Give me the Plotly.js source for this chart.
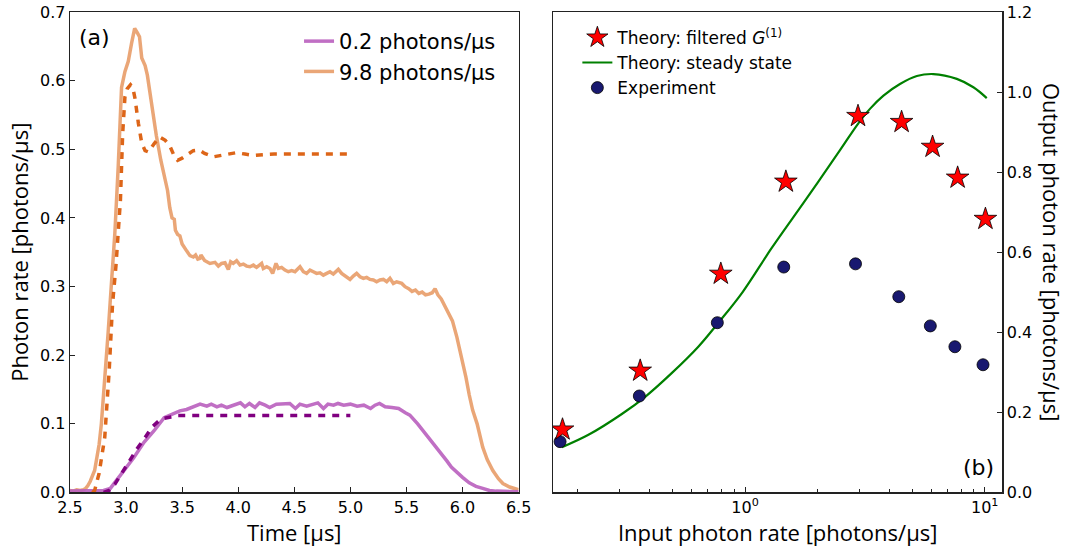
<!DOCTYPE html>
<html>
<head>
<meta charset="utf-8">
<script src="https://cdn.plot.ly/plotly-3.0.1.min.js"></script>
<style>
  html, body { margin: 0; padding: 0; background: #fff; }
  #chart { width: 1068px; height: 552px; }
</style>
</head>
<body>
<div id="chart"></div>
<script>
// ---- Panel (a): photon rate vs time ----
// Measured rate, 9.8 photons/us input
const tHigh = [2.50,2.53,2.56,2.59,2.62,2.64,2.66,2.68,2.72,2.74,2.76,2.78,2.81,2.84,2.87,2.90,2.93,2.96,2.99,3.02,3.05,3.077,3.10,3.12,3.14,3.17,3.19,3.23,3.27,3.31,3.34,3.37,3.39,3.41,3.43,3.44,3.46,3.48,3.50,3.52,3.54,3.57,3.60,3.62,3.64,3.659,3.668,3.70,3.719,3.748,3.793,3.823,3.852,3.882,3.912,3.933,3.956,3.986,4.016,4.046,4.075,4.105,4.135,4.164,4.209,4.224,4.254,4.283,4.307,4.337,4.358,4.387,4.417,4.447,4.477,4.506,4.551,4.581,4.610,4.640,4.670,4.699,4.729,4.759,4.789,4.818,4.848,4.893,4.922,4.967,4.997,5.026,5.056,5.086,5.116,5.145,5.175,5.205,5.234,5.264,5.294,5.324,5.353,5.383,5.413,5.458,5.487,5.52,5.55,5.58,5.61,5.64,5.67,5.70,5.73,5.755,5.78,5.81,5.84,5.86,5.88,5.91,5.95,5.99,6.03,6.06,6.09,6.13,6.16,6.18,6.22,6.27,6.32,6.36,6.42,6.48,6.50];
const rHigh = [0.003,0.002,0.004,0.003,0.004,0.006,0.010,0.016,0.032,0.048,0.070,0.100,0.160,0.232,0.305,0.377,0.474,0.590,0.613,0.628,0.655,0.676,0.670,0.664,0.633,0.622,0.608,0.562,0.520,0.484,0.462,0.440,0.415,0.400,0.398,0.382,0.376,0.374,0.362,0.358,0.352,0.345,0.343,0.346,0.340,0.341,0.346,0.338,0.3362,0.3337,0.3352,0.3298,0.3337,0.3347,0.3250,0.3362,0.3337,0.3376,0.3313,0.3328,0.3298,0.3289,0.3313,0.3279,0.3337,0.3264,0.3289,0.3264,0.3192,0.3337,0.3264,0.3279,0.3240,0.3216,0.3231,0.3216,0.3289,0.3216,0.3192,0.3240,0.3216,0.3192,0.3201,0.3167,0.3192,0.3216,0.3182,0.3250,0.3192,0.3143,0.3104,0.3153,0.3192,0.3143,0.3119,0.3133,0.3104,0.3095,0.3070,0.3095,0.3104,0.3070,0.3119,0.3046,0.3070,0.3046,0.2998,0.297,0.293,0.295,0.290,0.292,0.288,0.289,0.291,0.297,0.288,0.282,0.272,0.266,0.261,0.250,0.226,0.198,0.168,0.142,0.120,0.100,0.080,0.066,0.048,0.032,0.020,0.013,0.008,0.005,0.004];

// Measured rate, 0.2 photons/us input
const tLow = [2.50,2.60,2.70,2.80,2.86,2.91,2.98,3.07,3.16,3.25,3.34,3.43,3.48,3.54,3.60,3.66,3.72,3.76,3.81,3.85,3.90,3.96,4.02,4.06,4.10,4.15,4.19,4.24,4.28,4.34,4.40,4.46,4.51,4.55,4.61,4.67,4.71,4.76,4.80,4.85,4.89,4.94,5.00,5.06,5.12,5.18,5.22,5.26,5.31,5.37,5.43,5.49,5.53,5.60,5.66,5.72,5.76,5.81,5.86,5.90,5.95,6.00,6.06,6.12,6.18,6.24,6.30,6.40,6.50];
const rLow = [0.002,0.002,0.002,0.003,0.006,0.017,0.032,0.051,0.073,0.090,0.109,0.116,0.1190,0.1209,0.1248,0.1287,0.1258,0.1287,0.1248,0.1272,0.1238,0.1272,0.1306,0.1248,0.1297,0.1238,0.1306,0.1272,0.1238,0.1287,0.1287,0.1297,0.1224,0.1287,0.1258,0.1287,0.1306,0.1224,0.1287,0.1272,0.1297,0.1272,0.1287,0.1258,0.1272,0.1224,0.1272,0.1297,0.1248,0.1238,0.1224,0.1161,0.1127,0.100,0.088,0.076,0.066,0.057,0.046,0.037,0.029,0.022,0.014,0.009,0.006,0.003,0.002,0.002,0.001];

// Theory curves for the two inputs
const tThHigh = [2.70,2.72,2.76,2.81,2.85,2.88,2.91,2.95,2.97,2.99,3.01,3.04,3.06,3.08,3.11,3.14,3.17,3.20,3.25,3.30,3.35,3.39,3.43,3.46,3.50,3.54,3.60,3.65,3.70,3.78,3.85,3.92,3.98,4.06,4.14,4.22,4.32,4.50,5.00];
const rThHigh = [0.000,0.003,0.028,0.080,0.178,0.275,0.330,0.426,0.523,0.576,0.588,0.594,0.590,0.574,0.538,0.509,0.498,0.496,0.508,0.518,0.513,0.505,0.490,0.484,0.487,0.491,0.498,0.499,0.494,0.489,0.491,0.494,0.495,0.493,0.491,0.492,0.493,0.493,0.493];
const tThLow = [2.80,2.85,2.90,2.96,3.03,3.10,3.17,3.23,3.29,3.34,3.40,3.46,3.60,5.00];
const rThLow = [0.000,0.003,0.012,0.028,0.045,0.064,0.080,0.095,0.104,0.108,0.110,0.112,0.112,0.112];

// ---- Panel (b): output vs input photon rate ----
const inStar = [0.173,0.365,0.792,1.48,2.96,4.50,6.06,7.71,10.07];
const outStar = [0.157,0.304,0.546,0.776,0.940,0.925,0.863,0.786,0.683];
const inExp = [0.169,0.362,0.766,1.45,2.89,4.38,5.93,7.51,9.84];
const outExp = [0.127,0.241,0.424,0.563,0.571,0.489,0.416,0.364,0.319];
const inSteady = [0.172,0.222,0.306,0.383,0.494,0.638,0.774,0.975,1.29,1.81,2.49,2.97,3.32,3.78,4.43,5.21,6.11,7.65,8.97,10.2];
const outSteady = [0.113,0.144,0.196,0.239,0.298,0.364,0.424,0.500,0.610,0.735,0.855,0.922,0.958,0.991,1.020,1.040,1.045,1.033,1.012,0.985];

const xTicksA = [2.5,3.0,3.5,4.0,4.5,5.0,5.5,6.0,6.5];
const yTicksA = [0.0,0.1,0.2,0.3,0.4,0.5,0.6,0.7];
const yTicksB = [0.0,0.2,0.4,0.6,0.8,1.0,1.2];
const xTicksB = [1, 10];
const xTickTextB = ['10<sup>0</sup>', '10<sup>1</sup>'];
const xMinorB = [0.2,0.3,0.4,0.5,0.6,0.7,0.8,0.9,2,3,4,5,6,7,8,9];

const FONT = 'DejaVu Sans, sans-serif';
const TITLEFONT = 'Open Sans, sans-serif';

const traces = [
  { x: tHigh, y: rHigh, xaxis: 'x', yaxis: 'y', mode: 'lines', name: '9.8 photons/µs',
    line: { color: 'rgba(230,150,95,0.85)', width: 3.5 }, legendrank: 2 },
  { x: tLow, y: rLow, xaxis: 'x', yaxis: 'y', mode: 'lines', name: '0.2 photons/µs',
    line: { color: 'rgba(185,95,190,0.9)', width: 3.5 }, legendrank: 1 },
  { x: tThHigh, y: rThHigh, xaxis: 'x', yaxis: 'y', mode: 'lines', showlegend: false,
    line: { color: '#DD6518', width: 3.5, dash: '7px,7px' } },
  { x: tThLow, y: rThLow, xaxis: 'x', yaxis: 'y', mode: 'lines', showlegend: false,
    line: { color: '#800080', width: 3.5, dash: '7px,7px' } },

  { x: inSteady, y: outSteady, xaxis: 'x2', yaxis: 'y2', mode: 'lines', name: 'Theory: steady state',
    legend: 'legend2', legendrank: 2, line: { color: '#008000', width: 2.2, shape: 'spline', smoothing: 1 } },
  { x: inExp, y: outExp, xaxis: 'x2', yaxis: 'y2', mode: 'markers', name: 'Experiment',
    legend: 'legend2', legendrank: 3,
    marker: { symbol: 'circle', size: 12, color: '#191970', line: { color: '#000', width: 0.8 } } },
  { x: inStar, y: outStar, xaxis: 'x2', yaxis: 'y2', mode: 'markers', name: 'Theory: filtered <i>G</i><sup>(1)</sup>',
    legend: 'legend2', legendrank: 1,
    marker: { symbol: 'star', size: 17, color: '#FF0000', line: { color: '#000', width: 0.8 } } }
];

const axisCommon = {
  showline: true, linecolor: '#222', linewidth: 1.2, mirror: true,
  ticks: 'inside', ticklen: 5, tickwidth: 1, tickcolor: '#222',
  showgrid: false, zeroline: false,
  tickfont: { family: FONT, size: 16, color: '#000' }
};

const layout = {
  width: 1068, height: 552,
  margin: { l: 0, r: 0, t: 0, b: 0 },
  paper_bgcolor: '#fff', plot_bgcolor: '#fff',
  xaxis: Object.assign({}, axisCommon, {
    domain: [0.0655, 0.4856], range: [2.5, 6.5],
    tickmode: 'array', tickvals: xTicksA, ticktext: xTicksA.map(v => v.toFixed(1)),
    title: { text: 'Time [µs]', font: { family: TITLEFONT, size: 22, color: '#000' }, standoff: 4 }
  }),
  yaxis: Object.assign({}, axisCommon, {
    domain: [0.1078, 0.9783], range: [0, 0.7],
    tickmode: 'array', tickvals: yTicksA, ticktext: yTicksA.map(v => v.toFixed(1)),
    title: { text: 'Photon rate [photons/µs]', font: { family: TITLEFONT, size: 22, color: '#000' }, standoff: 5 }
  }),
  xaxis2: Object.assign({}, axisCommon, {
    domain: [0.5177, 0.9386], type: 'log', range: [-0.802, 1.074], anchor: 'y2',
    tickmode: 'array', tickvals: xTicksB, ticktext: xTickTextB,
    minor: { tickmode: 'array', tickvals: xMinorB, ticks: 'inside', ticklen: 3, tickcolor: '#222' },
    title: { text: 'Input photon rate [photons/µs]', font: { family: TITLEFONT, size: 22, color: '#000' }, standoff: 6 }
  }),
  yaxis2: Object.assign({}, axisCommon, {
    domain: [0.1078, 0.9783], range: [0, 1.2], anchor: 'x2', side: 'right',
    tickmode: 'array', tickvals: yTicksB, ticktext: yTicksB.map(v => v.toFixed(1))
  }),
  legend: {
    x: 0.280, y: 0.962, xanchor: 'left', yanchor: 'top',
    bgcolor: 'rgba(0,0,0,0)', font: { family: FONT, size: 21, color: '#000' },
    traceorder: 'normal', tracegroupgap: 0
  },
  legend2: {
    x: 0.5406, y: 0.964, xanchor: 'left', yanchor: 'top',
    bgcolor: 'rgba(0,0,0,0)', font: { family: FONT, size: 17, color: '#000' },
    traceorder: 'normal', tracegroupgap: 0
  },
  annotations: [
    { text: '(a)', xref: 'paper', yref: 'paper', x: 94 / 1068, y: 1 - 38 / 552,
      xanchor: 'center', yanchor: 'middle', showarrow: false,
      font: { family: FONT, size: 22, color: '#000' } },
    { text: '(b)', xref: 'paper', yref: 'paper', x: 978 / 1068, y: 1 - 467 / 552,
      xanchor: 'center', yanchor: 'middle', showarrow: false,
      font: { family: FONT, size: 22, color: '#000' } },
    { text: 'Output photon rate [photons/µs]', xref: 'paper', yref: 'paper',
      x: 1052 / 1068, y: 1 - 252 / 552, xanchor: 'center', yanchor: 'middle',
      textangle: 90, showarrow: false,
      font: { family: TITLEFONT, size: 22, color: '#000' } }
  ],
  showlegend: true
};

Plotly.newPlot('chart', traces, layout, { displayModeBar: false, staticPlot: true });
</script>
</body>
</html>
